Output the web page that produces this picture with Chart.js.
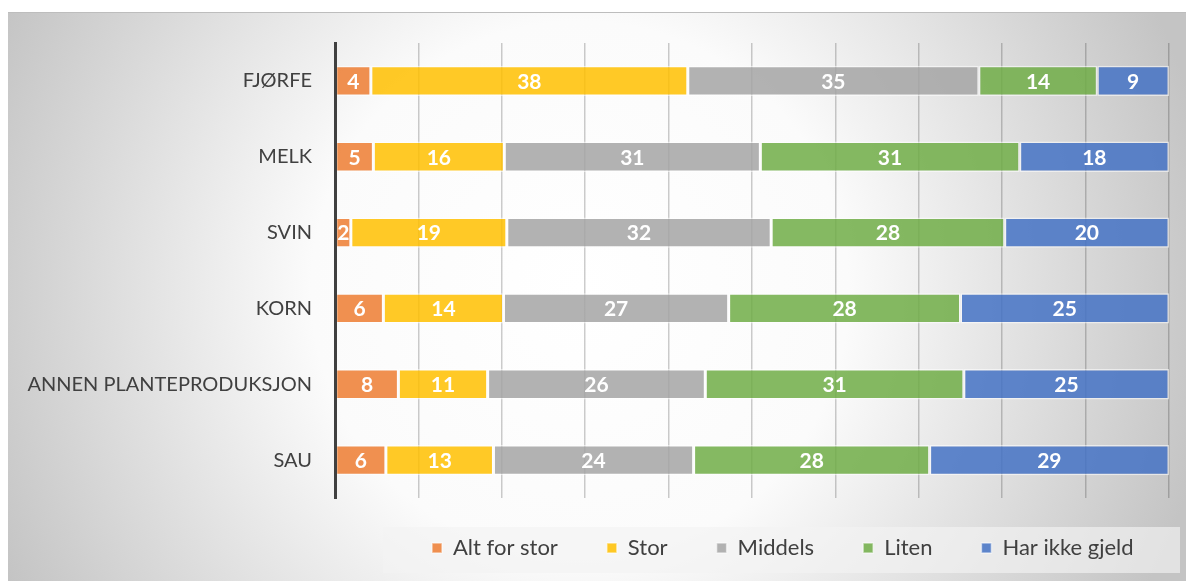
<!DOCTYPE html>
<html>
<head>
<meta charset="utf-8">
<script src="https://cdn.jsdelivr.net/npm/chart.js@4.4.1/dist/chart.umd.min.js"></script>
<style>
  html, body { margin: 0; padding: 0; background: #ffffff; }
  #wrap { width: 1186px; height: 581px; position: relative; }
  canvas { display: block; }
</style>
</head>
<body>
<div id="wrap"><canvas id="c" width="1186" height="581"></canvas></div>
<script>
// ---- data (percent of each row) ----
const categories = ['FJØRFE', 'MELK', 'SVIN', 'KORN', 'ANNEN PLANTEPRODUKSJON', 'SAU'];
const seriesNames = ['Alt for stor', 'Stor', 'Middels', 'Liten', 'Har ikke gjeld'];
const altForStor   = [4.3, 4.6, 1.9, 5.8, 7.6, 6.1];
const stor         = [38.0, 15.7, 18.7, 14.4, 10.7, 12.9];
const middels      = [34.9, 30.7, 31.7, 27.0, 26.1, 24.0];
const liten        = [14.2, 31.1, 28.0, 27.8, 31.0, 28.3];
const harIkkeGjeld = [8.6, 17.9, 19.7, 25.0, 24.6, 28.7];
const axisMin = 0;
const axisMax = 100;
const axisStep = 10;

// ---- styles ----
const seriesColors = [
  'rgba(237,125,49,0.85)',
  'rgba(255,192,0,0.85)',
  'rgba(165,165,165,0.85)',
  'rgba(112,173,71,0.85)',
  'rgba(68,114,196,0.85)'
];
const FONT = 'Lato';
const TEXT_SIZE = 20;
const LEGEND_SIZE = 22;

const seriesValues = [altForStor, stor, middels, liten, harIkkeGjeld];
const datasets = seriesNames.map((name, i) => ({
  label: name,
  data: seriesValues[i],
  backgroundColor: seriesColors[i],
  borderColor: 'rgba(255,255,255,0.55)',
  borderWidth: 1.5,
  borderSkipped: false,
  barPercentage: 0.4,
  categoryPercentage: 1.0
}));

const bgPlugin = {
  id: 'bgPlugin',
  beforeDraw(chart) {
    const { ctx, width, height } = chart;
    ctx.save();
    ctx.fillStyle = '#ffffff';
    ctx.fillRect(0, 0, width, height);
    const g = ctx.createRadialGradient(580, 290, 0, 580, 290, 640);
    g.addColorStop(0, '#ffffff');
    g.addColorStop(0.42, '#fbfbfb');
    g.addColorStop(1, '#c4c4c4');
    ctx.fillStyle = g;
    ctx.fillRect(8, 12, width - 8, height - 12);
    ctx.fillStyle = '#bdbdbd';
    ctx.fillRect(8, 12, width - 8, 1);
    // legend panel
    ctx.fillStyle = 'rgba(242,242,242,0.65)';
    ctx.fillRect(383, 527, 797, 46);
    ctx.restore();
  }
};

const legendPlace = {
  id: 'legendPlace',
  beforeLayout(chart) {
    const lg = chart.legend;
    if (lg && !lg.__patched) {
      const f = lg.fit;
      lg.fit = function () { f.call(this); this.height = 40; };
      lg.__patched = true;
    }
  },
  afterLayout(chart) {
    const lg = chart.legend;
    if (!lg) return;
    const pad = lg.options.labels.padding;
    const itemH = Math.max(lg.options.labels.boxHeight, LEGEND_SIZE);
    lg.left = 432 - pad;
    lg.right = 1400;
    lg.top = 548 - pad - itemH / 2;
    lg.bottom = 581;
  }
};

const valueLabels = {
  id: 'valueLabels',
  afterDatasetsDraw(chart) {
    const { ctx } = chart;
    ctx.save();
    ctx.font = 'bold 21px ' + FONT;
    ctx.fillStyle = '#ffffff';
    ctx.textAlign = 'center';
    ctx.textBaseline = 'middle';
    chart.data.datasets.forEach((ds, i) => {
      const meta = chart.getDatasetMeta(i);
      meta.data.forEach((bar, j) => {
        const v = ds.data[j];
        const cx = (bar.x + bar.base) / 2;
        ctx.fillText(String(Math.round(v)), cx, bar.y + 1);
      });
    });
    ctx.restore();
  }
};

function build() {
  new Chart(document.getElementById('c'), {
    type: 'bar',
    data: { labels: categories, datasets: datasets },
    options: {
      indexAxis: 'y',
      responsive: false,
      animation: false,
      devicePixelRatio: 1,
      layout: { padding: { left: 8, right: 17, top: 43, bottom: 43 } },
      scales: {
        x: {
          stacked: true,
          min: axisMin,
          max: axisMax,
          ticks: { display: false, stepSize: axisStep },
          grid: { color: 'rgba(0,0,0,0.2)', lineWidth: 1.5, drawTicks: false },
          border: { display: false }
        },
        y: {
          stacked: true,
          grid: { display: false, drawTicks: false },
          border: { display: true, color: '#404040', width: 3, z: 1 },
          ticks: { padding: 23, color: '#404040', font: { family: FONT, size: TEXT_SIZE } },
          afterFit(scale) { scale.width = 327; }
        }
      },
      plugins: {
        legend: {
          position: 'bottom',
          align: 'start',
          labels: {
            boxWidth: 10,
            boxHeight: 10,
            padding: 49,
            color: '#404040',
            font: { family: FONT, size: LEGEND_SIZE }
          }
        },
        tooltip: { enabled: false }
      }
    },
    plugins: [bgPlugin, legendPlace, valueLabels]
  });
}

if (document.fonts && document.fonts.load) {
  Promise.all([
    document.fonts.load(TEXT_SIZE + 'px ' + FONT),
    document.fonts.load(LEGEND_SIZE + 'px ' + FONT),
    document.fonts.load('bold 21px ' + FONT)
  ]).then(build, build);
} else {
  build();
}
</script>
</body>
</html>
